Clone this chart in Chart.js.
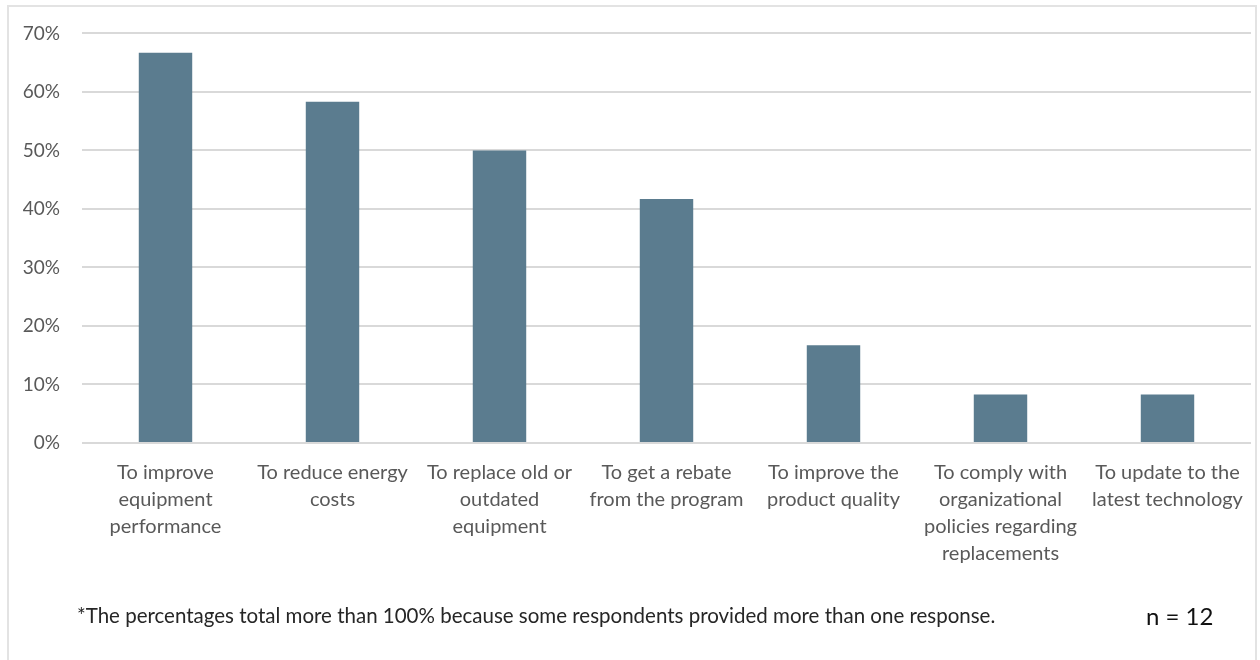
<!DOCTYPE html>
<html>
<head>
<meta charset="utf-8">
<script src="https://cdn.jsdelivr.net/npm/chart.js@4/dist/chart.umd.min.js"></script>
<style>
  body { margin: 0; background: #fff; }
  #wrap { position: relative; width: 1260px; height: 660px; }
  #frame { position: absolute; left: 7px; top: 5px; width: 1250px; height: 670px; border: 2px solid #e3e3e3; box-sizing: border-box; }
  #note { position: absolute; left: 77px; top: 603px; font: 20.5px Lato, sans-serif; color: #262626; white-space: nowrap; }
  #n { position: absolute; left: 1146px; top: 601px; font: 24px Lato, sans-serif; color: #111; }
</style>
</head>
<body>
<div id="wrap">
  <canvas id="reasonsChart" width="1260" height="660"></canvas>
  <div id="frame"></div>
  <div id="note">*The percentages total more than 100% because some respondents provided more than one response.</div>
  <div id="n">n = 12</div>
</div>
<script>
var reasons = [
  ["To improve", "equipment", "performance"],
  ["To reduce energy", "costs"],
  ["To replace old or", "outdated", "equipment"],
  ["To get a rebate", "from the program"],
  ["To improve the", "product quality"],
  ["To comply with", "organizational", "policies regarding", "replacements"],
  ["To update to the", "latest technology"]
];
var shares = [66.7, 58.3, 50.0, 41.7, 16.7, 8.3, 8.3];
var pctTicks = [0, 10, 20, 30, 40, 50, 60, 70];

var ctx = document.getElementById("reasonsChart");
var reasonsChart = new Chart(ctx, {
  type: "bar",
  data: {
    labels: reasons,
    datasets: [
      {
        data: shares,
        backgroundColor: "#5b7c8f",
        borderWidth: 0,
        barPercentage: 0.32,
        categoryPercentage: 1,
      },
    ],
  },
  options: {
    responsive: false,
    animation: false,
    layout: {
      padding: { top: 33, right: 9, left: 0, bottom: 0 },
    },
    plugins: {
      legend: { display: false },
      tooltip: { enabled: false },
    },
    scales: {
      x: {
        grid: { display: false },
        border: { display: false },
        ticks: {
          color: "#595959",
          font: { family: "Lato", size: 20, lineHeight: 1.35 },
          padding: 8,
          maxRotation: 0,
          autoSkip: false,
        },
        afterFit: function (scale) { scale.height = 217; },
      },
      y: {
        min: 0,
        max: 70,
        afterBuildTicks: function (scale) {
          scale.ticks = pctTicks.map(function (v) { return { value: v }; });
        },
        grid: { color: "#d9d9d9", lineWidth: 2, drawTicks: false },
        border: { display: false },
        ticks: {
          color: "#595959",
          font: { family: "Lato", size: 19 },
          padding: 22,
          callback: function (v) { return v + "%"; },
        },
        afterFit: function (scale) { scale.width = 82; },
      },
    },
  },
});
</script>
</body>
</html>
